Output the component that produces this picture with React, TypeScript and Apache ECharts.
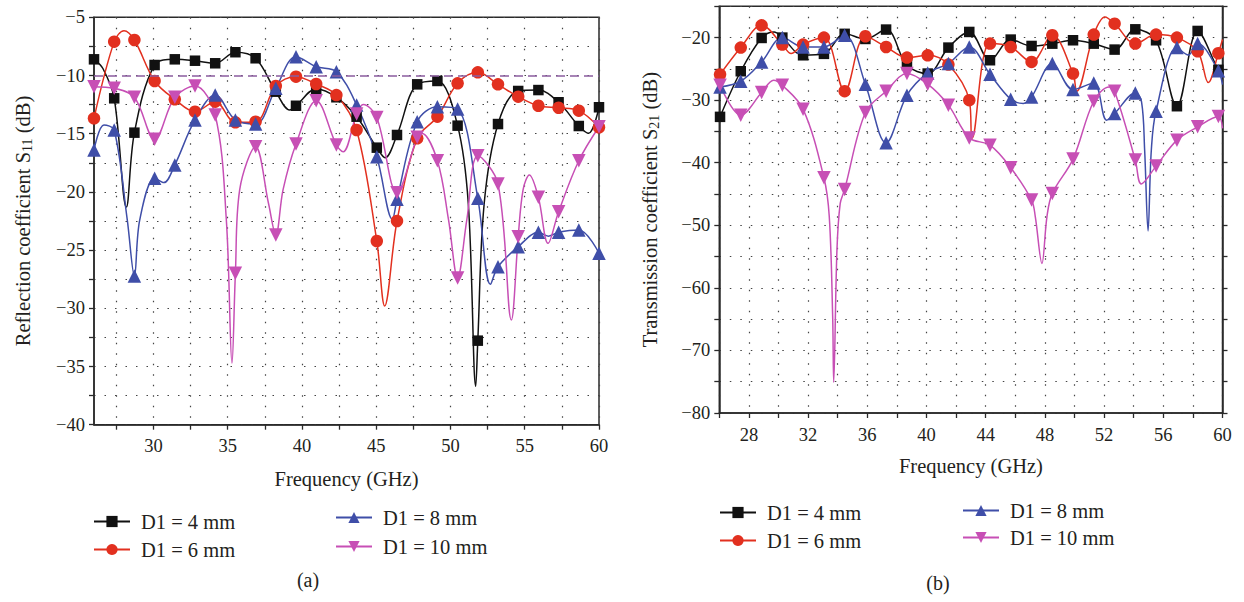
import React, { useEffect, useRef } from 'react';
import * as echarts from 'echarts';

// ---------- DATA ----------
const SERIES_NAMES = ['D1 = 4 mm', 'D1 = 6 mm', 'D1 = 8 mm', 'D1 = 10 mm'];

// (a) Reflection coefficient S11 (dB) — marker frequencies (GHz)
const S11_MARK_F = [26.0, 27.36, 28.72, 30.08, 31.44, 32.8, 34.16, 35.52, 36.88, 38.24, 39.6, 40.96, 42.32, 43.68, 45.04, 46.4, 47.76, 49.12, 50.48, 51.84, 53.2, 54.56, 55.92, 57.28, 58.64, 60.0];
const S11_D4 = [-8.61, -11.96, -14.91, -9.1, -8.61, -8.73, -8.95, -8.0, -8.52, -11.39, -12.6, -11.16, -11.87, -13.54, -16.2, -15.11, -10.76, -10.47, -14.31, -32.78, -14.17, -11.33, -11.25, -12.3, -14.34, -12.73];
const S11_D4_XF = [26.6, 28.18, 39.18, 45.6, 51.2, 51.7, 52.27, 59.3];
const S11_D4_XV = [-9.4, -21.3, -12.96, -17.06, -21.0, -36.7, -21.0, -14.97];
const S11_D6 = [-13.68, -7.09, -6.95, -10.47, -12.05, -13.11, -12.25, -14.02, -13.97, -10.9, -10.1, -10.73, -11.68, -14.68, -24.22, -22.5, -15.4, -13.54, -10.67, -9.73, -10.76, -11.82, -12.6, -12.77, -13.02, -14.45];
const S11_D6_XF = [28.02, 45.57];
const S11_D6_XV = [-6.15, -29.8];
const S11_D8 = [-16.4, -14.68, -27.23, -18.83, -17.69, -13.82, -11.68, -13.82, -14.17, -11.1, -8.38, -9.24, -9.67, -12.53, -16.98, -20.64, -13.97, -12.68, -12.88, -20.55, -26.43, -24.71, -23.47, -23.47, -23.27, -25.27];
const S11_D8_XF = [26.67, 28.24, 29.08, 30.7, 46.09, 52.69, 56.6];
const S11_D8_XV = [-14.25, -22.4, -22.4, -19.2, -22.35, -27.94, -23.8];
const S11_D10 = [-10.96, -11.1, -11.87, -15.48, -11.87, -10.9, -13.39, -26.99, -16.12, -23.7, -15.88, -12.16, -15.97, -13.31, -13.6, -20.07, -15.31, -17.32, -27.4, -16.89, -19.32, -23.85, -20.47, -21.7, -17.32, -14.4];
const S11_D10_XF = [34.91, 35.29, 35.81, 37.75, 38.73, 42.77, 44.13, 48.05, 49.87, 51.1, 54.1, 54.89, 55.31, 56.57];
const S11_D10_XV = [-22.4, -34.73, -19.8, -21.0, -19.8, -16.55, -12.5, -14.97, -22.4, -22.4, -31.0, -19.8, -18.55, -24.42];
const S11_THRESHOLD = -10;

// (b) Transmission coefficient S21 (dB)
const S21_MARK_F = [26.05, 27.45, 28.86, 30.26, 31.66, 33.07, 34.47, 35.87, 37.27, 38.68, 40.08, 41.48, 42.89, 44.29, 45.69, 47.1, 48.5, 49.9, 51.3, 52.71, 54.11, 55.51, 56.92, 58.32, 59.72];
const S21_D4 = [-32.67, -25.38, -20.06, -20.0, -22.83, -22.6, -19.4, -20.22, -18.72, -24.42, -25.75, -21.6, -19.1, -23.62, -20.32, -21.34, -20.97, -20.43, -20.97, -21.92, -18.68, -20.43, -30.97, -18.94, -25.15];
const S21_D4_XF = [29.7, 60];
const S21_D4_XV = [-19.1, -25.9];
const S21_D6 = [-25.9, -21.6, -18.04, -21.12, -21.12, -20.0, -28.57, -19.79, -21.5, -23.19, -22.83, -24.31, -30.0, -20.96, -21.5, -23.89, -19.63, -25.75, -19.52, -17.77, -20.96, -19.52, -20.0, -22.19, -22.5];
const S21_D6_XF = [30.85, 43.08, 50.15, 52.06, 59.04, 60];
const S21_D6_XV = [-22.55, -36.1, -28.57, -16.71, -27.18, -20.3];
const S21_D8 = [-27.88, -26.98, -23.89, -20.0, -21.5, -21.5, -19.63, -27.45, -36.82, -29.21, -25.65, -24.15, -21.5, -25.86, -29.85, -29.48, -24.15, -28.3, -27.25, -32.13, -28.84, -31.76, -21.6, -20.96, -25.3];
const S21_D8_XF = [46.54, 52.17, 54.53, 54.74, 54.97, 55.19, 57.69, 60];
const S21_D8_XV = [-30.53, -33.2, -30.28, -38.0, -50.9, -38.0, -22.8, -27.5];
const S21_D10 = [-27.61, -32.4, -28.78, -27.61, -31.44, -42.41, -44.26, -31.97, -28.57, -25.75, -27.45, -30.8, -36.03, -37.19, -40.81, -45.97, -44.9, -39.42, -30.17, -28.57, -39.58, -40.54, -36.39, -34.27, -32.6];
const S21_D10_XF = [29.67, 33.43, 33.66, 33.73, 33.95, 34.17, 47.35, 47.8, 48.14, 52.35, 54.51, 60];
const S21_D10_XV = [-26.82, -48.6, -64.6, -75.1, -53.9, -46.5, -48.6, -56.1, -48.6, -27.9, -43.4, -34.5];

// Axis ticks / labels
const S11_X_TICKS = [27.5, 30, 32.5, 35, 37.5, 40, 42.5, 45, 47.5, 50, 52.5, 55, 57.5, 60];
const S11_X_LABELS = [30, 35, 40, 45, 50, 55, 60];

// ---------- STYLE ----------
const FONT = '"Liberation Serif", "Times New Roman", serif';
const TEXT = '#231f20';
const AXIS = '#2a2a2a';
const COLORS = ['#111111', '#E2301F', '#3F4EA8', '#C74FB5'];
const SYMBOLS = ['rect', 'circle', 'triangle', 'triangle'];
const SYM_SIZE = [10.5, 12.5, 13.5, 13.5];
const SYM_ROT = [0, 0, 0, 180];

const minus = (v: number) => String(v).replace('-', '\u2212');

function buildLine(mf: number[], mv: number[], ef: number[], ev: number[]) {
  const pts = mf
    .map((f, i) => ({ v: [f, mv[i]], m: true }))
    .concat(ef.map((f, i) => ({ v: [f, ev[i]], m: false })));
  pts.sort((a, b) => a.v[0] - b.v[0]);
  return pts.map((p) => (p.m ? { value: p.v } : { value: p.v, symbol: 'none' }));
}

function makeSeries(idx: number, data: any[], gi: number, extra: any = {}) {
  return {
    name: SERIES_NAMES[idx],
    type: 'line',
    xAxisIndex: gi,
    yAxisIndex: gi,
    data,
    smooth: 0.35,
    symbol: SYMBOLS[idx],
    symbolSize: SYM_SIZE[idx],
    symbolRotate: SYM_ROT[idx],
    showSymbol: true,
    showAllSymbol: true,
    lineStyle: { color: COLORS[idx], width: 1.5 },
    itemStyle: { color: COLORS[idx] },
    emphasis: { disabled: true },
    ...extra,
  };
}

const gridLine = { show: true, lineStyle: { type: [1.5, 9], color: '#444', width: 1.2 } };
const axisLine = { show: true, onZero: false, lineStyle: { color: AXIS, width: 1.5 } };
const tickStyle = { color: AXIS, width: 1.3 };
const labelStyle = { fontFamily: FONT, fontSize: 18.5, color: TEXT };
const nameStyle = (extra: any = {}) => ({
  fontFamily: FONT,
  fontSize: 20.5,
  color: TEXT,
  rich: { s: { fontFamily: FONT, fontSize: 14, color: TEXT, padding: [9, 0, 0, 0] } },
  ...extra,
});

function legendItem(name: string, left: number, top: number) {
  return {
    data: [name],
    left,
    top,
    padding: 0,
    itemWidth: 36,
    itemHeight: 14,
    selectedMode: false,
    textStyle: { fontFamily: FONT, fontSize: 20.5, color: TEXT, padding: [0, 0, 0, 6] },
  };
}

export default function App() {
  const ref = useRef<HTMLDivElement>(null);
  useEffect(() => {
    const chart = echarts.init(ref.current!, null, { renderer: 'svg' });
    const option: any = {
      animation: false,
      grid: [
        { left: 94, top: 17.3, width: 505, height: 407.4, show: true, borderColor: AXIS, borderWidth: 1.5, containLabel: false },
        { left: 719.3, top: 6.3, width: 503.2, height: 406.7, show: true, borderColor: AXIS, borderWidth: 1.5, containLabel: false },
      ],
      xAxis: [
        {
          gridIndex: 0, type: 'value', min: 26, max: 60,
          axisLine,
          axisTick: { show: true, length: 5, customValues: S11_X_TICKS, lineStyle: tickStyle },
          axisLabel: { ...labelStyle, margin: 12, customValues: S11_X_LABELS },
          splitLine: gridLine,
          name: 'Frequency (GHz)', nameLocation: 'middle', nameGap: 44, nameTextStyle: nameStyle(),
        },
        {
          gridIndex: 1, type: 'value', min: 26, max: 60, interval: 2,
          axisLine,
          axisTick: { show: true, length: 5, lineStyle: tickStyle },
          axisLabel: { ...labelStyle, margin: 12, formatter: (v: number) => ((v - 28) % 4 === 0 ? String(v) : '') },
          splitLine: gridLine,
          name: 'Frequency (GHz)', nameLocation: 'middle', nameGap: 42, nameTextStyle: nameStyle(),
        },
      ],
      yAxis: [
        {
          gridIndex: 0, type: 'value', min: -40, max: -5, interval: 2.5,
          axisLine,
          axisTick: { show: true, length: 5, lineStyle: tickStyle },
          axisLabel: { ...labelStyle, margin: 9, formatter: (v: number) => (v % 5 === 0 ? minus(v) : '') },
          splitLine: gridLine,
          name: 'Reflection coefficient S{s|11} (dB)', nameLocation: 'middle', nameRotate: 90, nameGap: 60, nameTextStyle: nameStyle(),
        },
        {
          gridIndex: 1, type: 'value', min: -80, max: -15, interval: 5,
          axisLine,
          axisTick: { show: true, length: 5, lineStyle: tickStyle },
          axisLabel: { ...labelStyle, margin: 9, formatter: (v: number) => (v % 10 === 0 ? minus(v) : '') },
          splitLine: gridLine,
          name: 'Transmission coefficient S{s|21} (dB)', nameLocation: 'middle', nameRotate: 90, nameGap: 58, nameTextStyle: nameStyle(),
        },
        {
          gridIndex: 1, type: 'value', min: -80, max: -15, interval: 5, position: 'right',
          axisLine,
          axisTick: { show: true, length: 5, lineStyle: tickStyle },
          axisLabel: { show: false },
          splitLine: { show: false },
        },
      ],
      legend: [
        legendItem(SERIES_NAMES[0], 93, 511),
        legendItem(SERIES_NAMES[1], 93, 539),
        legendItem(SERIES_NAMES[2], 335, 507),
        legendItem(SERIES_NAMES[3], 335, 536),
        legendItem(SERIES_NAMES[0], 719, 502),
        legendItem(SERIES_NAMES[1], 719, 530),
        legendItem(SERIES_NAMES[2], 962, 500),
        legendItem(SERIES_NAMES[3], 962, 527),
      ],
      graphic: [
        { type: 'text', x: 308, y: 580, style: { text: '(a)', font: `20px ${FONT}`, fill: TEXT, textAlign: 'center', verticalAlign: 'middle' } },
        { type: 'text', x: 938, y: 583, style: { text: '(b)', font: `20px ${FONT}`, fill: TEXT, textAlign: 'center', verticalAlign: 'middle' } },
      ],
      series: [
        makeSeries(0, buildLine(S11_MARK_F, S11_D4, S11_D4_XF, S11_D4_XV), 0, {
          markLine: {
            silent: true, symbol: ['none', 'none'], label: { show: false },
            lineStyle: { color: '#8A5C9E', type: [9, 5], width: 1.6 },
            data: [{ yAxis: S11_THRESHOLD }],
          },
        }),
        makeSeries(1, buildLine(S11_MARK_F, S11_D6, S11_D6_XF, S11_D6_XV), 0),
        makeSeries(2, buildLine(S11_MARK_F, S11_D8, S11_D8_XF, S11_D8_XV), 0),
        makeSeries(3, buildLine(S11_MARK_F, S11_D10, S11_D10_XF, S11_D10_XV), 0),
        makeSeries(0, buildLine(S21_MARK_F, S21_D4, S21_D4_XF, S21_D4_XV), 1),
        makeSeries(1, buildLine(S21_MARK_F, S21_D6, S21_D6_XF, S21_D6_XV), 1),
        makeSeries(2, buildLine(S21_MARK_F, S21_D8, S21_D8_XF, S21_D8_XV), 1),
        makeSeries(3, buildLine(S21_MARK_F, S21_D10, S21_D10_XF, S21_D10_XV), 1),
      ],
    };
    chart.setOption(option);
    return () => chart.dispose();
  }, []);
  return <div ref={ref} style={{ position: 'absolute', left: 0, top: 0, width: 1244, height: 602 }} />;
}
